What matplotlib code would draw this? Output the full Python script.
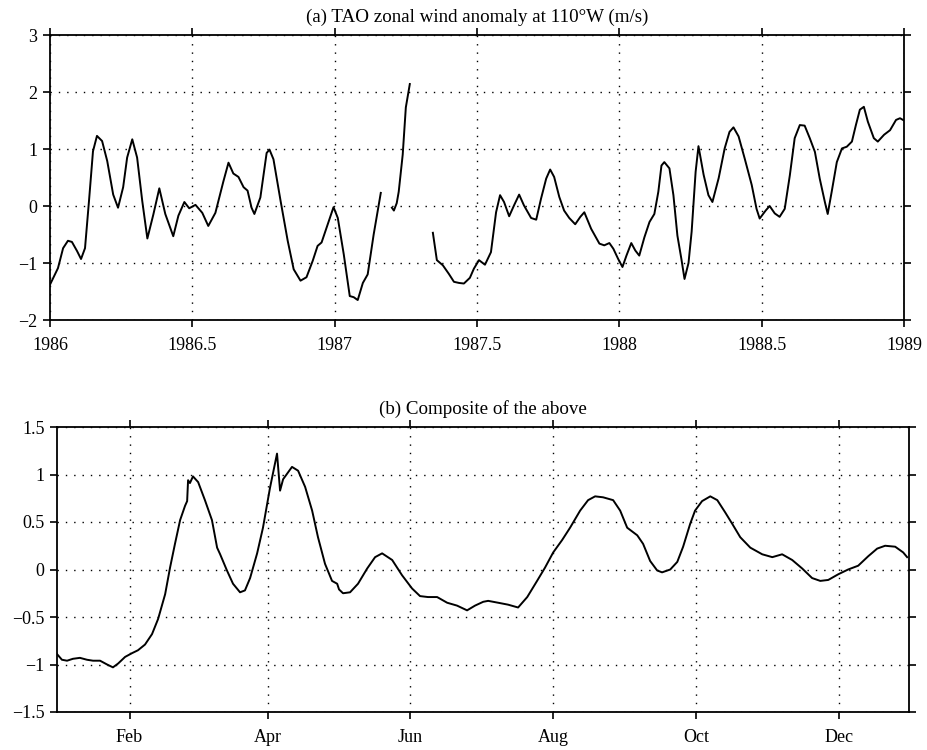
import matplotlib.pyplot as plt
from matplotlib.ticker import FuncFormatter

# (a) TAO zonal wind anomaly at 110W, three pieces (gaps in the record)
seg1_year = [1986.000, 1986.028, 1986.046, 1986.063, 1986.077, 1986.095, 1986.109, 1986.123, 1986.137, 1986.151,
             1986.165, 1986.183, 1986.201, 1986.222, 1986.239, 1986.257, 1986.271, 1986.289, 1986.306, 1986.324,
             1986.342, 1986.363, 1986.384, 1986.405, 1986.433, 1986.451, 1986.472, 1986.489, 1986.511, 1986.535,
             1986.556, 1986.581, 1986.609, 1986.627, 1986.644, 1986.662, 1986.680, 1986.694, 1986.708, 1986.718,
             1986.739, 1986.761, 1986.771, 1986.785, 1986.810, 1986.835, 1986.856, 1986.880, 1986.901, 1986.923,
             1986.940, 1986.954, 1986.975, 1986.996, 1987.011, 1987.032, 1987.053, 1987.067, 1987.081, 1987.099,
             1987.116, 1987.137, 1987.162]
seg1_u = [-1.38, -1.09, -0.74, -0.61, -0.63, -0.79, -0.93, -0.74, 0.09, 0.96,
          1.23, 1.14, 0.79, 0.20, -0.03, 0.33, 0.85, 1.17, 0.85, 0.09,
          -0.57, -0.15, 0.31, -0.14, -0.53, -0.17, 0.07, -0.04, 0.02, -0.12,
          -0.35, -0.12, 0.43, 0.76, 0.57, 0.51, 0.33, 0.27, -0.03, -0.14,
          0.15, 0.93, 0.99, 0.82, 0.09, -0.61, -1.11, -1.31, -1.25, -0.96,
          -0.70, -0.64, -0.33, -0.02, -0.21, -0.85, -1.58, -1.60, -1.65, -1.35,
          -1.20, -0.50, 0.23]

seg2_year = [1987.201, 1987.208, 1987.218, 1987.225, 1987.239, 1987.250, 1987.264]
seg2_u = [-0.03, -0.08, 0.05, 0.25, 0.90, 1.73, 2.14]

seg3_year = [1987.345, 1987.359, 1987.380, 1987.401, 1987.419, 1987.437, 1987.454, 1987.475, 1987.489, 1987.507,
             1987.528, 1987.549, 1987.567, 1987.581, 1987.595, 1987.613, 1987.630, 1987.648, 1987.665, 1987.690,
             1987.708, 1987.725, 1987.743, 1987.757, 1987.771, 1987.789, 1987.806, 1987.824, 1987.845, 1987.863,
             1987.877, 1987.901, 1987.930, 1987.947, 1987.965, 1987.979, 1987.996, 1988.011, 1988.025, 1988.042,
             1988.056, 1988.070, 1988.088, 1988.106, 1988.123, 1988.137, 1988.148, 1988.158, 1988.176, 1988.190,
             1988.204, 1988.218, 1988.229, 1988.243, 1988.254, 1988.268, 1988.278, 1988.296, 1988.313, 1988.327,
             1988.349, 1988.370, 1988.387, 1988.401, 1988.419, 1988.440, 1988.465, 1988.482, 1988.493, 1988.514,
             1988.528, 1988.546, 1988.563, 1988.581, 1988.599, 1988.616, 1988.634, 1988.651, 1988.669, 1988.687,
             1988.704, 1988.722, 1988.732, 1988.746, 1988.764, 1988.782, 1988.799, 1988.817, 1988.831, 1988.845,
             1988.859, 1988.873, 1988.894, 1988.908, 1988.930, 1988.951, 1988.972, 1988.986, 1989.000]
seg3_u = [-0.47, -0.95, -1.04, -1.19, -1.33, -1.35, -1.36, -1.26, -1.10, -0.95,
          -1.03, -0.81, -0.11, 0.19, 0.07, -0.18, 0.01, 0.20, 0.01, -0.21,
          -0.24, 0.13, 0.48, 0.64, 0.51, 0.16, -0.08, -0.21, -0.32, -0.19,
          -0.11, -0.40, -0.66, -0.69, -0.65, -0.75, -0.93, -1.07, -0.87, -0.65,
          -0.78, -0.87, -0.55, -0.28, -0.14, 0.25, 0.71, 0.77, 0.66, 0.19,
          -0.52, -0.93, -1.28, -1.00, -0.45, 0.60, 1.05, 0.55, 0.19, 0.07,
          0.49, 1.01, 1.30, 1.38, 1.22, 0.84, 0.37, -0.05, -0.22, -0.08,
          0.00, -0.13, -0.19, -0.05, 0.54, 1.19, 1.42, 1.41, 1.19, 0.95,
          0.48, 0.07, -0.14, 0.25, 0.77, 1.01, 1.04, 1.13, 1.42, 1.69,
          1.74, 1.48, 1.19, 1.13, 1.25, 1.33, 1.51, 1.54, 1.50]

# (b) composite, day of year
comp_day = [0.0, 2.1, 4.3, 6.8, 9.8, 12.8, 15.4, 18.4, 21.4, 23.9,
            26.1, 29.1, 32.1, 34.6, 37.6, 40.6, 43.2, 46.2, 48.3, 50.4,
            52.6, 54.7, 55.6, 56.0, 56.8, 58.1, 60.3, 63.2, 66.2, 68.4,
            69.7, 72.6, 75.2, 78.2, 80.3, 82.5, 85.5, 88.0, 91.0, 94.0,
            95.3, 96.6, 100.4, 103.0, 106.0, 109.0, 111.5, 114.5, 117.5, 119.7,
            120.5, 122.2, 125.2, 128.6, 132.5, 135.9, 138.9, 143.2, 147.4, 151.7,
            155.1, 158.5, 162.4, 166.7, 170.9, 175.2, 178.6, 182.1, 184.2, 188.5,
            192.7, 197.0, 200.9, 205.1, 208.5, 212.0, 215.8, 219.2, 223.5, 226.9,
            229.9, 233.3, 237.6, 240.6, 243.6, 247.9, 250.4, 253.4, 256.4, 258.5,
            262.0, 265.0, 267.5, 270.5, 272.6, 275.6, 279.1, 282.1, 285.5, 288.5,
            291.9, 296.2, 301.3, 305.6, 309.8, 314.1, 318.4, 322.6, 326.1, 329.5,
            333.8, 338.0, 342.3, 346.6, 350.4, 353.8, 358.1, 361.5, 363.2]
comp_u = [-0.89, -0.95, -0.96, -0.94, -0.93, -0.95, -0.96, -0.96, -1.00, -1.03,
          -0.99, -0.92, -0.88, -0.85, -0.79, -0.68, -0.52, -0.26, 0.02, 0.27,
          0.52, 0.67, 0.72, 0.94, 0.91, 0.98, 0.92, 0.73, 0.52, 0.23,
          0.16, -0.01, -0.15, -0.24, -0.22, -0.09, 0.17, 0.44, 0.86, 1.22,
          0.83, 0.95, 1.08, 1.04, 0.87, 0.62, 0.34, 0.06, -0.12, -0.15,
          -0.21, -0.25, -0.24, -0.15, 0.01, 0.13, 0.17, 0.10, -0.06, -0.20,
          -0.28, -0.29, -0.29, -0.35, -0.38, -0.43, -0.38, -0.34, -0.33, -0.35,
          -0.37, -0.40, -0.29, -0.12, 0.02, 0.18, 0.31, 0.44, 0.62, 0.73,
          0.77, 0.76, 0.73, 0.62, 0.44, 0.36, 0.27, 0.09, -0.01, -0.03,
          0.00, 0.08, 0.24, 0.48, 0.62, 0.72, 0.77, 0.73, 0.60, 0.48,
          0.34, 0.23, 0.16, 0.13, 0.16, 0.10, 0.01, -0.09, -0.12, -0.11,
          -0.05, 0.00, 0.04, 0.14, 0.22, 0.25, 0.24, 0.18, 0.13]

year_ticks = [1986, 1986.5, 1987, 1987.5, 1988, 1988.5, 1989]
month_ticks = [31, 90, 151, 212, 273, 334]
month_labels = ['Feb', 'Apr', 'Jun', 'Aug', 'Oct', 'Dec']

plt.rcParams['font.family'] = ['Liberation Serif', 'DejaVu Serif']
plt.rcParams['font.size'] = 13
plt.rcParams['axes.unicode_minus'] = True

fmt = FuncFormatter(lambda v, p: ('%g' % v).replace('-', '\u2212'))


def style_axes(ax):
    for s in ax.spines.values():
        s.set_linewidth(1.3)
    ax.tick_params(direction='out', length=5, width=1.2, top=True, right=True,
                   labeltop=False, labelright=False)
    ax.tick_params(axis='x', pad=7)
    ax.tick_params(axis='y', pad=4)
    ax.grid(True, color='black', linestyle=(0, (1, 5)), linewidth=1.0)
    ax.yaxis.set_major_formatter(fmt)


fig = plt.figure(figsize=(9.27, 7.5), dpi=100)

ax1 = fig.add_axes([50 / 927, 1 - 320 / 750, 854 / 927, 285 / 750])
for t, u in [(seg1_year, seg1_u), (seg2_year, seg2_u), (seg3_year, seg3_u)]:
    ax1.plot(t, u, color='black', linewidth=1.4, solid_joinstyle='round')
ax1.set_xlim(1986, 1989)
ax1.set_ylim(-2, 3)
ax1.set_xticks(year_ticks)
ax1.set_yticks([-2, -1, 0, 1, 2, 3])
ax1.xaxis.set_major_formatter(FuncFormatter(lambda v, p: '%g' % v))
style_axes(ax1)
ax1.annotate('(a) TAO zonal wind anomaly at 110\u00b0W (m/s)', xy=(0.5, 1), xycoords='axes fraction',
             xytext=(0, 9.5), textcoords='offset points', ha='center', va='baseline', fontsize=13.7)

ax2 = fig.add_axes([57 / 927, 1 - 712 / 750, 852 / 927, 285 / 750])
ax2.plot(comp_day, comp_u, color='black', linewidth=1.4, solid_joinstyle='round')
ax2.set_xlim(0, 364)
ax2.set_ylim(-1.5, 1.5)
ax2.set_xticks(month_ticks)
ax2.set_xticklabels(month_labels)
ax2.set_yticks([-1.5, -1, -0.5, 0, 0.5, 1, 1.5])
style_axes(ax2)
ax2.annotate('(b) Composite of the above', xy=(0.5, 1), xycoords='axes fraction',
             xytext=(0, 9.5), textcoords='offset points', ha='center', va='baseline', fontsize=13.7)

fig.savefig('out.png', dpi=100)
